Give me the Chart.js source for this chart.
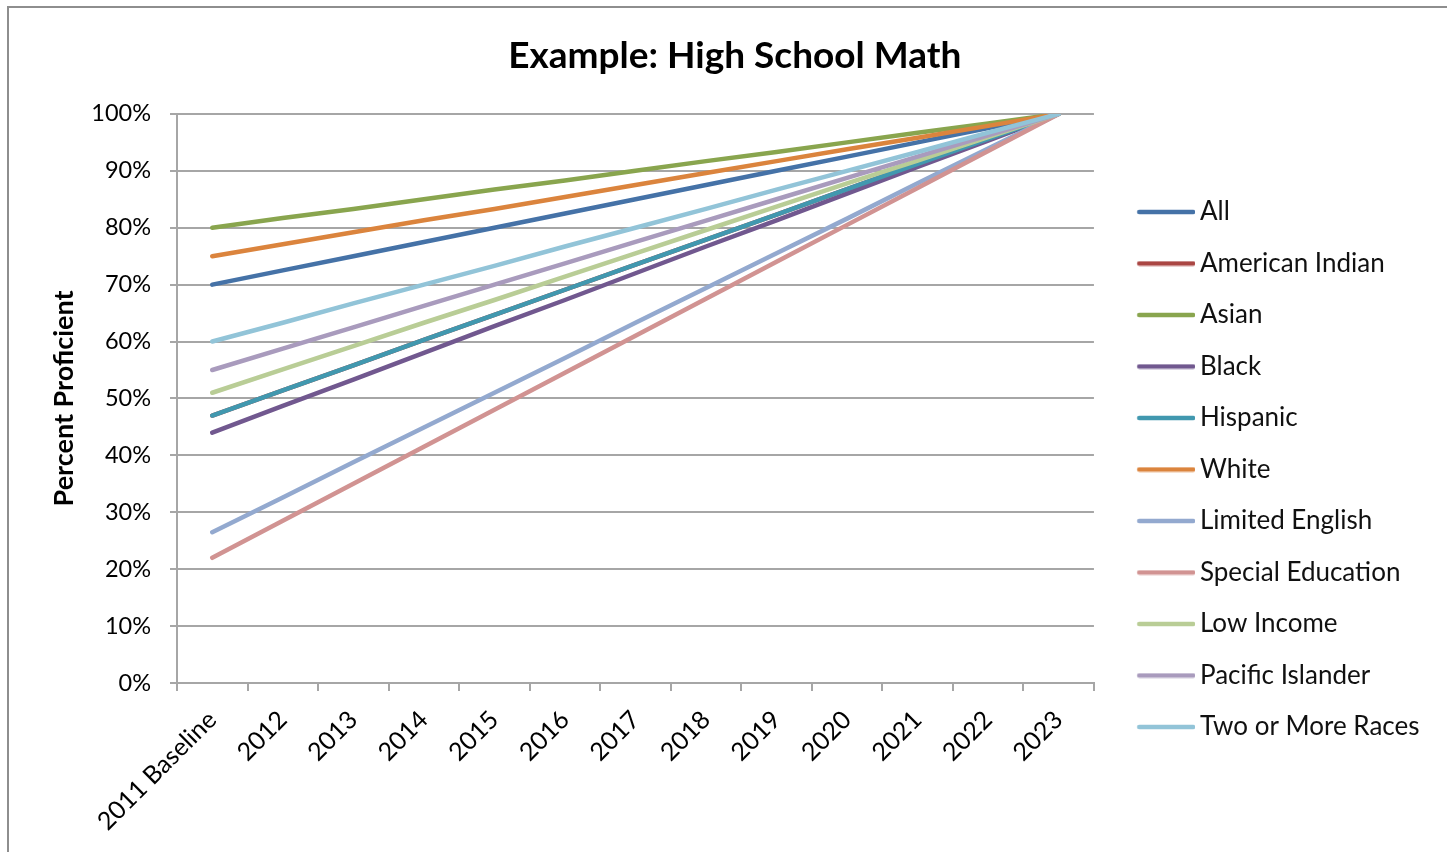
<!DOCTYPE html>
<html>
<head>
<meta charset="utf-8">
<script src="https://cdn.jsdelivr.net/npm/chart.js@4.4.1/dist/chart.umd.min.js"></script>
<style>
  html, body { margin: 0; padding: 0; background: #ffffff; overflow: hidden; }
  #frame { position: absolute; left: 7px; top: 6px; width: 1500px; height: 900px; border: 2px solid #8e8e8e; box-sizing: border-box; }
  #c { position: absolute; left: 0; top: 0; }
</style>
</head>
<body>
<div id="frame"></div>
<canvas id="c" width="1447" height="852"></canvas>
<script>
// Years on the horizontal axis
const years = ['2011 Baseline', '2012', '2013', '2014', '2015', '2016', '2017',
               '2018', '2019', '2020', '2021', '2022', '2023'];

// Percent proficient targets by student group
const allStudents      = [70, 72.5, 75, 77.5, 80, 82.5, 85, 87.5, 90, 92.5, 95, 97.5, 100];
const americanIndian   = [47, 51.4, 55.8, 60.3, 64.7, 69.1, 73.5, 77.9, 82.3, 86.8, 91.2, 95.6, 100];
const asian            = [80, 81.7, 83.3, 85, 86.7, 88.3, 90, 91.7, 93.3, 95, 96.7, 98.3, 100];
const black            = [44, 48.7, 53.3, 58, 62.7, 67.3, 72, 76.7, 81.3, 86, 90.7, 95.3, 100];
const hispanic         = [47, 51.4, 55.8, 60.3, 64.7, 69.1, 73.5, 77.9, 82.3, 86.8, 91.2, 95.6, 100];
const white            = [75, 77.1, 79.2, 81.3, 83.3, 85.4, 87.5, 89.6, 91.7, 93.8, 95.8, 97.9, 100];
const limitedEnglish   = [26.5, 32.6, 38.8, 44.9, 51, 57.1, 63.3, 69.4, 75.5, 81.6, 87.8, 93.9, 100];
const specialEducation = [22, 28.5, 35, 41.5, 48, 54.5, 61, 67.5, 74, 80.5, 87, 93.5, 100];
const lowIncome        = [51, 55.1, 59.2, 63.3, 67.3, 71.4, 75.5, 79.6, 83.7, 87.8, 91.8, 95.9, 100];
const pacificIslander  = [55, 58.75, 62.5, 66.25, 70, 73.75, 77.5, 81.25, 85, 88.75, 92.5, 96.25, 100];
const twoOrMoreRaces   = [60, 63.3, 66.7, 70, 73.3, 76.7, 80, 83.3, 86.7, 90, 93.3, 96.7, 100];

const groupNames = ['All', 'American Indian', 'Asian', 'Black', 'Hispanic', 'White',
                    'Limited English', 'Special Education', 'Low Income',
                    'Pacific Islander', 'Two or More Races'];
const groupValues = [allStudents, americanIndian, asian, black, hispanic, white,
                     limitedEnglish, specialEducation, lowIncome, pacificIslander, twoOrMoreRaces];
const groupColors = ['#4572A7', '#AA4643', '#89A54E', '#71588F', '#4198AF', '#DB843D',
                     '#93A9CF', '#D19392', '#B9CD96', '#A99BBD', '#92C4D8'];

const yTicks = [0, 10, 20, 30, 40, 50, 60, 70, 80, 90, 100];

const FONT = 'Lato, "Open Sans", sans-serif';
const gridGray = '#a6a6a6';

// Legend key: a short rounded stroke on the right part of a small canvas,
// so the key sits a little to the right of where its label box begins.
function keySwatch(color) {
  const cv = document.createElement('canvas');
  cv.width = 84;
  cv.height = 6;
  const g = cv.getContext('2d');
  g.strokeStyle = color;
  g.lineWidth = 4.5;
  g.lineCap = 'round';
  g.beginPath();
  g.moveTo(28, 3);
  g.lineTo(82, 3);
  g.stroke();
  return cv;
}
const swatches = groupColors.map(keySwatch);

const datasets = groupNames.map((name, i) => ({
  label: name,
  data: groupValues[i],
  borderColor: groupColors[i],
  backgroundColor: groupColors[i],
  borderWidth: 4.5,
  borderCapStyle: 'round',
  borderJoinStyle: 'round',
  pointRadius: 0,
  pointHoverRadius: 0,
  tension: 0,
  // later series are painted over earlier ones
  order: -i
}));

new Chart(document.getElementById('c'), {
  type: 'line',
  data: { labels: years, datasets },
  options: {
    responsive: false,
    animation: false,
    events: [],
    layout: { padding: { left: 40, right: 17.5, top: 14, bottom: 13 } },
    plugins: {
      title: {
        display: true,
        text: 'Example: High School Math',
        color: '#000',
        font: { family: FONT, size: 37, weight: 'bold' },
        padding: { top: 20, bottom: 35.5 }
      },
      legend: {
        position: 'right',
        align: 'center',
        // blank heading that lowers the key below the title band
        title: { display: true, text: ' ', font: { size: 10 }, padding: { top: 37, bottom: 37 } },
        labels: {
          color: '#111',
          font: { family: FONT, size: 26 },
          usePointStyle: true,
          pointStyleWidth: 67.5,
          boxHeight: 5,
          padding: 25.5,
          sort: (a, b) => a.datasetIndex - b.datasetIndex,
          generateLabels: (chart) => {
            const items = Chart.defaults.plugins.legend.labels.generateLabels(chart);
            items.forEach(it => {
              it.lineWidth = 0;
              it.pointStyle = swatches[it.datasetIndex];
            });
            return items;
          }
        }
      },
      tooltip: { enabled: false }
    },
    scales: {
      x: {
        offset: true,
        afterFit: (axis) => { axis.height = 156; },
        grid: {
          offset: true,
          drawOnChartArea: false,
          drawTicks: true,
          tickLength: 8,
          color: gridGray,
          lineWidth: 2
        },
        border: { color: gridGray, width: 2 },
        ticks: {
          color: '#000',
          font: { family: FONT, size: 25 },
          maxRotation: 45,
          minRotation: 45,
          autoSkip: false,
          padding: 14
        }
      },
      y: {
        min: 0,
        max: 100,
        afterBuildTicks: (axis) => { axis.ticks = yTicks.map(v => ({ value: v })); },
        afterFit: (axis) => { axis.width = 137; },
        grid: {
          color: gridGray,
          lineWidth: 2,
          tickLength: 7
        },
        border: { color: gridGray, width: 2 },
        ticks: {
          color: '#000',
          font: { family: FONT, size: 23.5 },
          padding: 19,
          callback: (v) => v + '%'
        },
        title: {
          display: true,
          text: 'Percent Proficient',
          color: '#000',
          font: { family: FONT, size: 27, weight: 'bold' },
          padding: { top: 8, bottom: 10 }
        }
      }
    }
  }
});
</script>
</body>
</html>
